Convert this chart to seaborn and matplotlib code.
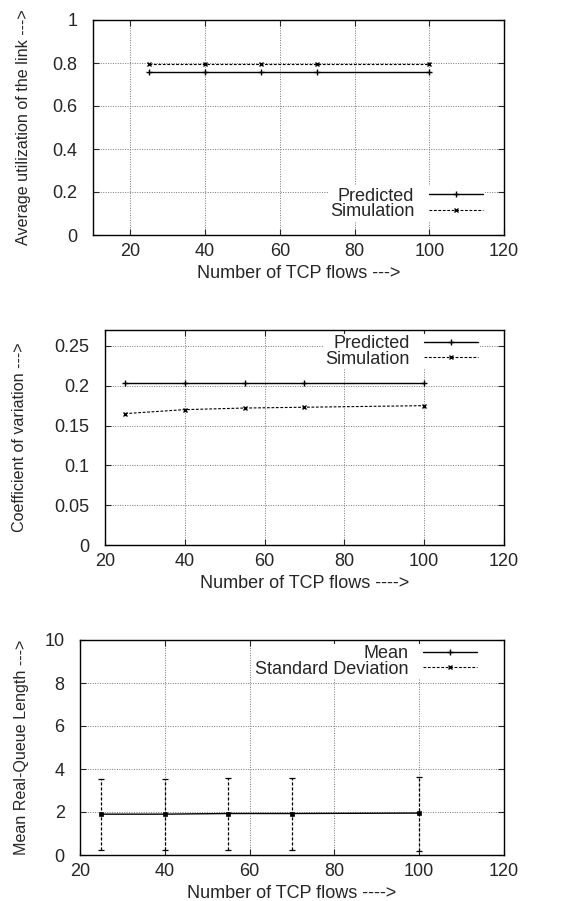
import numpy as np
import pandas as pd
import matplotlib
matplotlib.use("Agg")
import matplotlib.pyplot as plt
from matplotlib.lines import Line2D
from matplotlib.ticker import FormatStrFormatter
import seaborn as sns

# data
flows = [25, 40, 55, 70, 100]
util_pred = [0.76, 0.76, 0.76, 0.76, 0.76]
util_sim = [0.795, 0.795, 0.795, 0.795, 0.795]
cov_pred = [0.203, 0.203, 0.203, 0.203, 0.203]
cov_sim = [0.165, 0.170, 0.172, 0.173, 0.175]
q_mean = [1.90, 1.90, 1.93, 1.93, 1.95]
q_low = [0.25, 0.25, 0.25, 0.25, 0.20]
q_high = [3.55, 3.55, 3.60, 3.60, 3.65]

sns.set_style("ticks")
plt.rcParams['font.family'] = ['Liberation Sans', 'DejaVu Sans']
FS = 13
YFS = 11.6

W, H = 574, 901
fig = plt.figure(figsize=(W / 100, H / 100), dpi=100)

DASH = (0, (2.5, 1.5))


def px_axes(left, top, right, bottom):
    return fig.add_axes([left / W, 1 - bottom / H, (right - left) / W, (bottom - top) / H])


def style(ax, xlim, ylim, yticks, ylabel, xlabel, ylab_x):
    ax.set_xlim(*xlim)
    ax.set_ylim(*ylim)
    ax.set_xticks([20, 40, 60, 80, 100, 120])
    ax.set_yticks(yticks)
    ax.yaxis.set_major_formatter(FormatStrFormatter('%g'))
    ax.grid(True, color='#777777', linestyle=(0, (1, 1.5)), linewidth=0.7)
    ax.tick_params(direction='in', length=4, width=0.8, labelsize=FS,
                   top=True, right=True)
    ax.tick_params(axis='x', pad=6)
    ax.tick_params(axis='y', pad=11)
    for s in ax.spines.values():
        s.set_color('black')
        s.set_linewidth(1.0)
    ax.set_xlabel(xlabel, fontsize=FS, labelpad=3)
    ax.set_ylabel(ylabel, fontsize=YFS)
    ax.yaxis.set_label_coords(ylab_x, 0.5)


def legend(ax, handles, labels, loc, anchor):
    leg = ax.legend(handles, labels, loc=loc, bbox_to_anchor=anchor, markerfirst=False,
                    fontsize=FS, handlelength=3.0, handletextpad=0.8, labelspacing=-0.1,
                    borderpad=0.1, frameon=True, fancybox=False, framealpha=1,
                    edgecolor='none', facecolor='white', numpoints=1)
    return leg


pred_h = Line2D([], [], color='black', lw=1.0, marker='+', ms=4, mew=1, mec='black')
sim_h = Line2D([], [], color='black', lw=0.8, linestyle=DASH, marker='x', ms=3.5, mew=1, mec='black')

# panel 1: utilization
ax1 = px_axes(93, 20, 504, 235)
sns.lineplot(x=flows, y=util_pred, ax=ax1, color='black', lw=1.0, marker='+', ms=5, mew=1, mec='black')
sns.lineplot(x=flows, y=util_sim, ax=ax1, color='black', lw=0.8, linestyle=DASH,
             marker='x', ms=3.5, mew=1, mec='black')
style(ax1, (10, 120), (0, 1), [0, 0.2, 0.4, 0.6, 0.8, 1],
      'Average utilization of the link --->', 'Number of TCP flows --->', -0.15)
legend(ax1, [pred_h, sim_h], ['Predicted', 'Simulation'], 'lower right', (0.975, 0.02))

# panel 2: coefficient of variation
ax2 = px_axes(105, 330, 504, 545)
sns.lineplot(x=flows, y=cov_pred, ax=ax2, color='black', lw=1.0, marker='+', ms=5, mew=1, mec='black')
sns.lineplot(x=flows, y=cov_sim, ax=ax2, color='black', lw=0.8, linestyle=DASH,
             marker='x', ms=3.5, mew=1, mec='black')
style(ax2, (20, 120), (0, 0.27), [0, 0.05, 0.1, 0.15, 0.2, 0.25],
      'Coefficient of variation --->', 'Number of TCP flows ---->', -0.195)
legend(ax2, [pred_h, sim_h], ['Predicted', 'Simulation'], 'upper right', (0.963, 1.025))

# panel 3: queue length
ax3 = px_axes(80, 640, 504, 855)
q_mean_a = np.array(q_mean)
err = [q_mean_a - np.array(q_low), np.array(q_high) - q_mean_a]
eb = ax3.errorbar(flows, q_mean, yerr=err, fmt='none', ecolor='black', elinewidth=0.9,
                  capsize=2, capthick=0.9)
eb[2][0].set_linestyle(DASH)
sns.lineplot(x=flows, y=q_mean, ax=ax3, color='black', lw=1.0, marker='s', ms=3.5, mew=0.5, mec='black')
style(ax3, (20, 120), (0, 10), [0, 2, 4, 6, 8, 10],
      'Mean Real-Queue Length --->', 'Number of TCP flows ---->', -0.12)
legend(ax3, [pred_h, sim_h], ['Mean', 'Standard Deviation'], 'upper right', (0.963, 1.025))

fig.savefig('out.png', dpi=100)
